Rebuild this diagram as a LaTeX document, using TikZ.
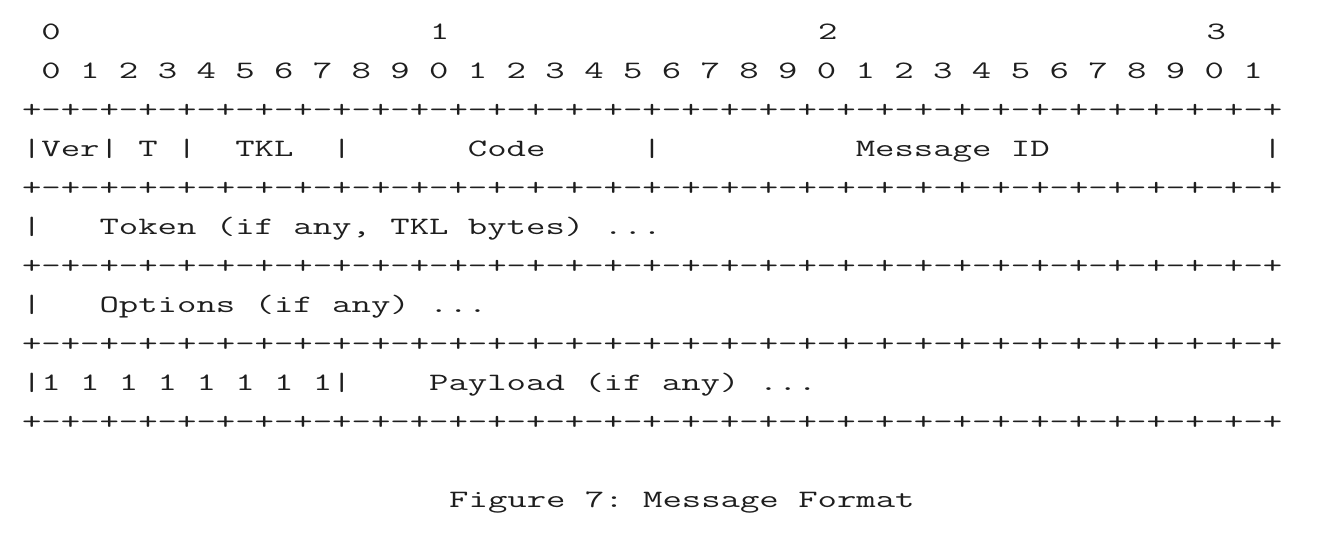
\documentclass[tikz,border=0pt]{standalone}
\usepackage{graphicx}
\definecolor{ink}{HTML}{1E1E1E}
\newcommand{\pairsfour}{+-+-+-+-}
\newcommand{\plusrow}{\pairsfour\pairsfour\pairsfour\pairsfour\pairsfour\pairsfour\pairsfour\pairsfour+}
\newcommand{\widetext}[1]{\scalebox{1.506}[1]{#1}}
\tikzset{
  mono/.style={anchor=base west, inner sep=0pt, outer sep=0pt, text=ink,
    font=\ttfamily\fontsize{12.5}{15}\selectfont},
}
\begin{document}
\begin{tikzpicture}[x=0.5pt, y=-0.5pt]
\useasboundingbox (0,0) rectangle (1327,534);
% header digits
\node[mono] (t0) at (41.42,39.5)   {\widetext{0}};
\node[mono] (t1) at (429.82,39.5)  {\widetext{1}};
\node[mono] (t2) at (818.22,39.5)  {\widetext{2}};
\node[mono] (t3) at (1206.62,39.5) {\widetext{3}};
\node[mono] (bits) at (41.42,78.5) {\widetext{0~1~2~3~4~5~6~7~8~9~0~1~2~3~4~5~6~7~8~9~0~1~2~3~4~5~6~7~8~9~0~1}};
% rows
\node[mono] (p1) at (22,117.5) {\widetext{\plusrow}};
\node[mono] (hdr) at (22,156.5) {\widetext{|Ver|~T~|~~TKL~~|~~~~~~Code~~~~~|~~~~~~~~~~Message~ID~~~~~~~~~~~|}};
\node[mono] (p2) at (22,195.5) {\widetext{\plusrow}};
\node[mono] (tok) at (22,234.5) {\widetext{|~~~Token~(if~any,~TKL~bytes)~...}};
\node[mono] (p3) at (22,273.5) {\widetext{\plusrow}};
\node[mono] (opt) at (22,312.5) {\widetext{|~~~Options~(if~any)~...}};
\node[mono] (p4) at (22,351.5) {\widetext{\plusrow}};
\node[mono] (pay) at (22,390.5) {\widetext{|1~1~1~1~1~1~1~1|~~~~Payload~(if~any)~...}};
\node[mono] (p5) at (22,429.5) {\widetext{\plusrow}};
% caption
\node[mono] (cap) at (449.24,507.5) {\widetext{Figure~7:~Message~Format}};
\end{tikzpicture}
\end{document}
